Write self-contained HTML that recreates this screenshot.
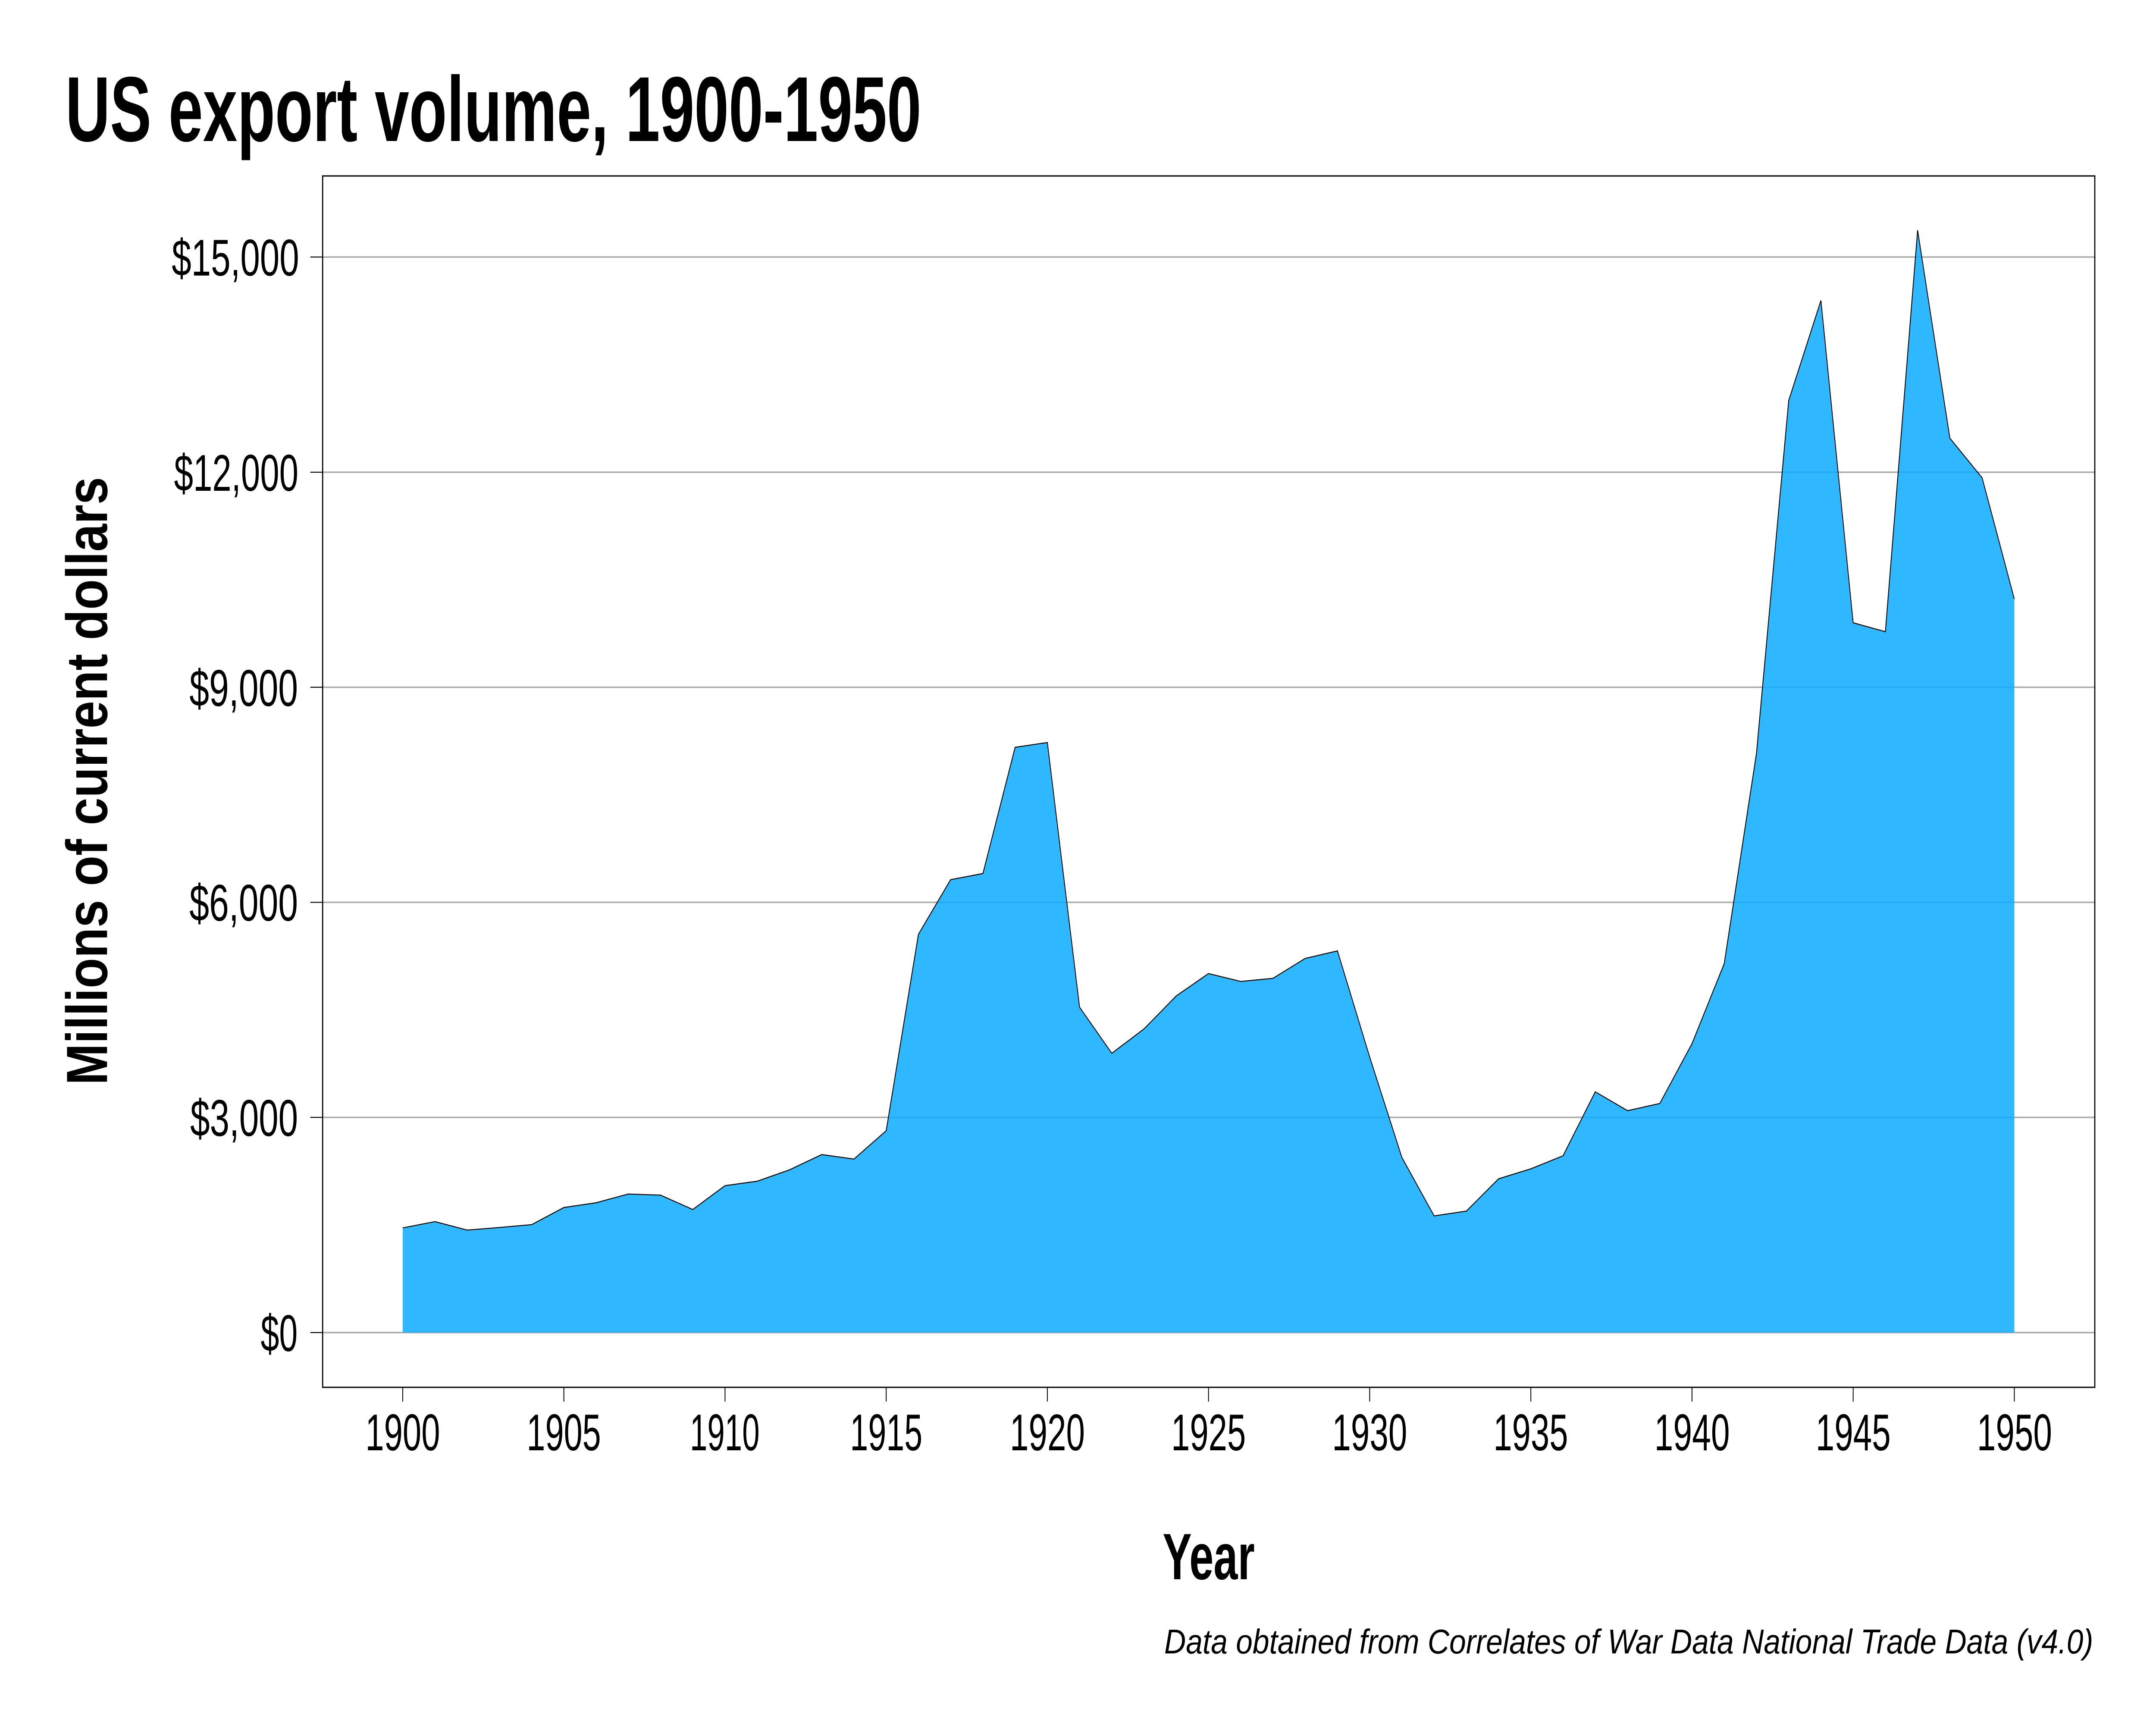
<!DOCTYPE html>
<html>
<head>
<meta charset="utf-8">
<style>
html,body{margin:0;padding:0;background:#fff;overflow:hidden;width:100%;height:100%;}
svg{display:block;width:100vw;height:100vh;}
text{font-family:"Liberation Sans",sans-serif;fill:#000;}
</style>
</head>
<body>
<svg viewBox="0 0 5600 4000" preserveAspectRatio="none" xmlns="http://www.w3.org/2000/svg">
<rect x="0" y="0" width="5600" height="4000" fill="#fff"/>

<!-- Title -->
<text x="170" y="327" font-size="214" font-weight="bold" textLength="2223" lengthAdjust="spacingAndGlyphs">US export volume, 1900-1950</text>

<!-- gridlines -->
<g stroke="#ababab" stroke-width="3.5">
<line x1="838" y1="3090" x2="5441" y2="3090"/>
<line x1="838" y1="2591" x2="5441" y2="2591"/>
<line x1="838" y1="2092.4" x2="5441" y2="2092.4"/>
<line x1="838" y1="1593.6" x2="5441" y2="1593.6"/>
<line x1="838" y1="1095" x2="5441" y2="1095"/>
<line x1="838" y1="596" x2="5441" y2="596"/>
</g>

<!-- area -->
<polygon fill="rgba(10,170,255,0.85)" points="1046,3090 1046,2847.3 1129.7,2832.7 1213.4,2852.3 1297.2,2846.3 1380.9,2839.7 1464.6,2800 1548.3,2789 1632,2768.7 1715.8,2771.3 1799.5,2804.7 1883.2,2749.3 1966.9,2739 2050.6,2712.7 2134.4,2677.3 2218.1,2687.7 2301.8,2622 2385.5,2166.6 2469.2,2039.8 2553,2025.5 2636.7,1732.9 2720.4,1721.7 2804.1,2335.6 2887.8,2442.4 2971.6,2385.8 3055.3,2309.3 3139,2257.5 3222.7,2275.8 3306.4,2268.6 3390.2,2222.4 3473.9,2204.9 3557.6,2451 3641.3,2684 3725,2819.5 3808.8,2808.3 3892.5,2733.4 3976.2,2710.3 4059.9,2680 4143.6,2531.7 4227.4,2575.5 4311.1,2558.8 4394.8,2420.1 4478.5,2234.5 4562.2,1747.2 4646,928.7 4729.7,696.8 4813.4,1444.1 4897.1,1464.8 4980.8,533.8 5064.6,1016 5148.3,1107.8 5232,1389 5232,3090"/>
<polyline fill="none" stroke="#000" stroke-width="2.2" stroke-linejoin="miter" points="1046,2847.3 1129.7,2832.7 1213.4,2852.3 1297.2,2846.3 1380.9,2839.7 1464.6,2800 1548.3,2789 1632,2768.7 1715.8,2771.3 1799.5,2804.7 1883.2,2749.3 1966.9,2739 2050.6,2712.7 2134.4,2677.3 2218.1,2687.7 2301.8,2622 2385.5,2166.6 2469.2,2039.8 2553,2025.5 2636.7,1732.9 2720.4,1721.7 2804.1,2335.6 2887.8,2442.4 2971.6,2385.8 3055.3,2309.3 3139,2257.5 3222.7,2275.8 3306.4,2268.6 3390.2,2222.4 3473.9,2204.9 3557.6,2451 3641.3,2684 3725,2819.5 3808.8,2808.3 3892.5,2733.4 3976.2,2710.3 4059.9,2680 4143.6,2531.7 4227.4,2575.5 4311.1,2558.8 4394.8,2420.1 4478.5,2234.5 4562.2,1747.2 4646,928.7 4729.7,696.8 4813.4,1444.1 4897.1,1464.8 4980.8,533.8 5064.6,1016 5148.3,1107.8 5232,1389"/>

<!-- panel border -->
<rect x="838" y="408" width="4603" height="2809" fill="none" stroke="#000" stroke-width="3"/>

<!-- y ticks -->
<g stroke="#000" stroke-width="2.2">
<line x1="806" y1="3090" x2="838" y2="3090"/>
<line x1="806" y1="2591" x2="838" y2="2591"/>
<line x1="806" y1="2092.4" x2="838" y2="2092.4"/>
<line x1="806" y1="1593.6" x2="838" y2="1593.6"/>
<line x1="806" y1="1095" x2="838" y2="1095"/>
<line x1="806" y1="596" x2="838" y2="596"/>
</g>

<!-- x ticks -->
<g stroke="#000" stroke-width="2.2">
<line x1="1046" y1="3217" x2="1046" y2="3250"/>
<line x1="1464.6" y1="3217" x2="1464.6" y2="3250"/>
<line x1="1883.2" y1="3217" x2="1883.2" y2="3250"/>
<line x1="2301.8" y1="3217" x2="2301.8" y2="3250"/>
<line x1="2720.4" y1="3217" x2="2720.4" y2="3250"/>
<line x1="3139" y1="3217" x2="3139" y2="3250"/>
<line x1="3557.6" y1="3217" x2="3557.6" y2="3250"/>
<line x1="3976.2" y1="3217" x2="3976.2" y2="3250"/>
<line x1="4394.8" y1="3217" x2="4394.8" y2="3250"/>
<line x1="4813.4" y1="3217" x2="4813.4" y2="3250"/>
<line x1="5232" y1="3217" x2="5232" y2="3250"/>
</g>

<!-- y labels -->
<g font-size="120">
<text x="446" y="639" textLength="331" lengthAdjust="spacingAndGlyphs">$15,000</text>
<text x="452" y="1138" textLength="323" lengthAdjust="spacingAndGlyphs">$12,000</text>
<text x="492" y="1637" textLength="282" lengthAdjust="spacingAndGlyphs">$9,000</text>
<text x="492" y="2135" textLength="282" lengthAdjust="spacingAndGlyphs">$6,000</text>
<text x="494" y="2634" textLength="280" lengthAdjust="spacingAndGlyphs">$3,000</text>
<text x="677" y="3133" textLength="96" lengthAdjust="spacingAndGlyphs">$0</text>
</g>

<!-- x labels -->
<g font-size="120">
<text x="949" y="3363" textLength="194" lengthAdjust="spacingAndGlyphs">1900</text>
<text x="1368" y="3363" textLength="193" lengthAdjust="spacingAndGlyphs">1905</text>
<text x="1792" y="3363" textLength="181" lengthAdjust="spacingAndGlyphs">1910</text>
<text x="2208" y="3363" textLength="188" lengthAdjust="spacingAndGlyphs">1915</text>
<text x="2623" y="3363" textLength="195" lengthAdjust="spacingAndGlyphs">1920</text>
<text x="3042" y="3363" textLength="194" lengthAdjust="spacingAndGlyphs">1925</text>
<text x="3460" y="3363" textLength="195" lengthAdjust="spacingAndGlyphs">1930</text>
<text x="3879" y="3363" textLength="194" lengthAdjust="spacingAndGlyphs">1935</text>
<text x="4297" y="3363" textLength="196" lengthAdjust="spacingAndGlyphs">1940</text>
<text x="4716" y="3363" textLength="195" lengthAdjust="spacingAndGlyphs">1945</text>
<text x="5135" y="3363" textLength="195" lengthAdjust="spacingAndGlyphs">1950</text>
</g>

<!-- axis titles -->
<text x="3020" y="3662" font-size="152" font-weight="bold" textLength="239" lengthAdjust="spacingAndGlyphs">Year</text>
<text transform="translate(278,1811) rotate(-90)" x="-705" y="0" font-size="151" font-weight="bold" textLength="1410" lengthAdjust="spacingAndGlyphs">Millions of current dollars</text>

<!-- caption -->
<text x="3024" y="3834" font-size="80" font-style="italic" textLength="2413" lengthAdjust="spacingAndGlyphs">Data obtained from Correlates of War Data National Trade Data (v4.0)</text>
</svg>
</body>
</html>
